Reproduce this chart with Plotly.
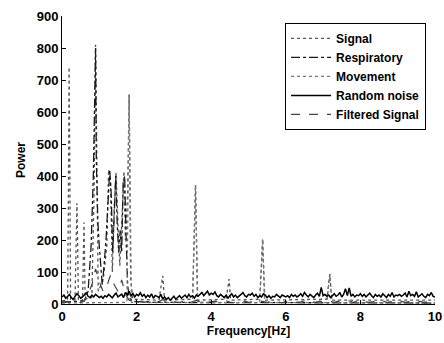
import numpy as np
import plotly.graph_objects as go

# ---------------- data ----------------
noise_freq = [round(i * 0.05, 2) for i in range(201)]
noise_power = [
    22, 28, 18, 25, 30, 20, 14, 24, 32, 26, 18, 22, 27, 35, 24, 20, 28, 22, 30, 26, 20,
    24, 18, 26, 22, 30, 25, 19, 28, 34, 22, 27, 31, 20, 36, 28, 40, 26, 33, 22, 30,
    26, 35, 24, 30, 20, 28, 22, 32, 18, 27, 24, 20, 30, 16, 22, 14, 20, 12, 18, 24,
    15, 20, 26, 18, 24, 28, 20, 30, 22, 26, 18, 28, 24, 30, 36, 26, 32, 40, 28, 34,
    30, 38, 26, 22, 30, 24, 20, 28, 18, 26, 32, 22, 28, 20, 24, 30, 36, 26, 22, 30,
    28, 34, 24, 30, 20, 26, 22, 32, 28, 20, 26, 18, 24, 22, 30, 26, 20, 28, 24, 22,
    26, 20, 30, 24, 28, 22, 26, 32, 24, 36, 28, 22, 30, 26, 20, 28, 34, 24, 52, 26,
    30, 24, 28, 20, 26, 32, 24, 28, 36, 22, 30, 48, 26, 50, 24, 30, 22, 28, 26, 32,
    24, 30, 22, 28, 34, 26, 20, 30, 24, 28, 22, 32, 26, 20, 30, 24, 36, 22, 28, 26,
    30, 24, 28, 34, 22, 40, 26, 30, 24, 38, 22, 28, 32, 24, 20, 30, 26, 36, 24, 22,
]

filt_freq = [round(i * 0.1, 1) for i in range(101)]
filt_power = [
    6, 8, 5, 9, 7, 4, 10, 30, 60, 110, 70, 40, 55, 90, 60, 40, 75, 30, 12, 8,
    6, 9, 5, 8, 6, 10, 7, 14, 6, 5, 8, 4, 6, 9, 5, 7, 12, 6, 8, 5,
    7, 9, 5, 8, 10, 6, 4, 8, 6, 9, 5, 7, 6, 10, 8, 5, 7, 9, 6, 4,
    8, 6, 9, 5, 7, 10, 6, 8, 5, 9, 7, 6, 8, 5, 9, 6, 7, 10, 5, 8,
    6, 9, 5, 7, 8, 6, 10, 5, 7, 9, 6, 8, 5, 7, 9, 6, 8, 5, 7, 6, 5,
]

signal_freq = [0, 0.15, 0.17, 0.19, 0.21, 0.23, 0.35, 0.38, 0.40, 0.42, 0.44,
               0.55, 0.59, 0.62, 0.80, 0.86, 0.90, 0.93, 0.97, 1.05, 1.12, 1.20,
               1.25, 1.30, 1.35, 1.40, 1.45, 1.50, 1.55, 1.62, 1.66, 1.70, 1.76,
               1.80, 1.84, 1.90, 2.60, 2.70, 2.75, 3.50, 3.58, 3.63, 4.40, 4.48,
               4.52, 5.30, 5.38, 5.43, 7.10, 7.18, 7.23, 10.0]
signal_power = [10, 12, 300, 740, 420, 15, 12, 200, 315, 180, 10,
                12, 255, 15, 20, 350, 810, 500, 40, 60, 90, 180,
                420, 380, 100, 300, 410, 250, 120, 300, 415, 200, 350,
                655, 80, 15, 12, 88, 12, 15, 372, 12, 15, 78,
                12, 15, 203, 12, 15, 94, 12, 12]

resp_freq = [0, 0.6, 0.7, 0.78, 0.84, 0.88, 0.90, 0.92, 0.96, 1.00, 1.04, 1.08,
             1.12, 1.18, 1.24, 1.28, 1.32, 1.36, 1.40, 1.44, 1.48, 1.52, 1.56,
             1.60, 1.64, 1.68, 1.72, 1.76, 1.80, 1.90, 2.50, 10.0]
resp_power = [5, 10, 40, 180, 400, 620, 800, 450, 260, 180, 100, 60,
              110, 200, 330, 420, 340, 160, 280, 400, 250, 160, 230,
              160, 380, 400, 200, 60, 20, 8, 5, 3]

move_freq = [0, 1.74, 1.80, 1.86, 3.50, 3.58, 3.64, 5.30, 5.38, 5.44,
             7.10, 7.18, 7.24, 10.0]
move_power = [3, 5, 655, 5, 4, 372, 4, 4, 203, 4, 4, 94, 4, 3]

series_names = ["Signal", "Respiratory", "Movement", "Random noise", "Filtered Signal"]
x_ticks = [0, 2, 4, 6, 8, 10]
y_ticks = [0, 100, 200, 300, 400, 500, 600, 700, 800, 900]

# ---------------- figure ----------------
fig = go.Figure()
fig.add_trace(go.Scatter(x=signal_freq, y=signal_power, mode="lines", name=series_names[0],
                         line=dict(color="#555555", width=1.3, dash="dot")))
fig.add_trace(go.Scatter(x=resp_freq, y=resp_power, mode="lines", name=series_names[1],
                         line=dict(color="#1a1a1a", width=1.3, dash="dashdot")))
fig.add_trace(go.Scatter(x=move_freq, y=move_power, mode="lines", name=series_names[2],
                         line=dict(color="#777777", width=1.3, dash="dot")))
fig.add_trace(go.Scatter(x=noise_freq, y=noise_power, mode="lines", name=series_names[3],
                         line=dict(color="#000000", width=1.5)))
fig.add_trace(go.Scatter(x=filt_freq, y=filt_power, mode="lines", name=series_names[4],
                         line=dict(color="#444444", width=1.2, dash="dash")))

font = "Liberation Sans, Arial, sans-serif"
fig.update_layout(
    width=444, height=343,
    margin=dict(l=62, r=9, t=16, b=39, autoexpand=False),
    paper_bgcolor="white", plot_bgcolor="white",
    font=dict(family=font, size=12, color="black", weight="bold"),
    showlegend=True,
    legend=dict(x=0.598, y=0.976, xanchor="left", yanchor="top",
                bordercolor="black", borderwidth=1, bgcolor="white",
                font=dict(size=12, color="black", weight="bold"),
                itemwidth=40, tracegroupgap=0),
    xaxis=dict(range=[0, 10], tickvals=x_ticks, showgrid=False, automargin=False,
               zeroline=False, showline=True, linecolor="black", linewidth=1,
               ticks="inside", ticklen=4, tickcolor="black",
               title=dict(text="Frequency[Hz]", standoff=2, font=dict(size=12)),
               tickfont=dict(size=13, color="black")),
    yaxis=dict(range=[0, 900], tickvals=y_ticks, showgrid=False, automargin=False,
               zeroline=False, showline=True, linecolor="black", linewidth=1,
               ticks="inside", ticklen=4, tickcolor="black",
               title=dict(text="Power", standoff=8, font=dict(size=12)),
               tickfont=dict(size=13, color="black")),
)

fig.write_html("out.html")
